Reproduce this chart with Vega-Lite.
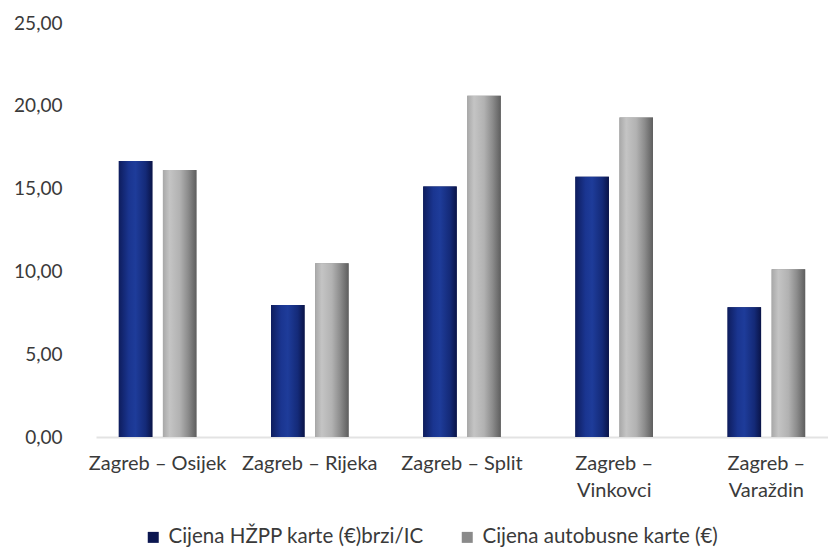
{
  "$schema": "https://vega.github.io/schema/vega-lite/v6.json",
  "autosize": "none",
  "width": 732,
  "height": 414,
  "padding": {"left": 96, "top": 23, "right": 0, "bottom": 115},
  "background": "white",
  "config": {
    "view": {"stroke": null},
    "font": "Lato",
    "axis": {"labelFont": "Lato", "labelColor": "#3a3a3a", "grid": false, "ticks": false, "title": null},
    "legend": {"labelFont": "Lato", "labelColor": "#3a3a3a"}
  },
  "data": {
    "values": [
      {"ruta": "Zagreb – Osijek", "serija": "Cijena HŽPP karte (€)brzi/IC", "cijena": 16.67},
      {"ruta": "Zagreb – Osijek", "serija": "Cijena autobusne karte (€)", "cijena": 16.12},
      {"ruta": "Zagreb – Rijeka", "serija": "Cijena HŽPP karte (€)brzi/IC", "cijena": 7.97},
      {"ruta": "Zagreb – Rijeka", "serija": "Cijena autobusne karte (€)", "cijena": 10.49},
      {"ruta": "Zagreb – Split", "serija": "Cijena HŽPP karte (€)brzi/IC", "cijena": 15.12},
      {"ruta": "Zagreb – Split", "serija": "Cijena autobusne karte (€)", "cijena": 20.61},
      {"ruta": "Zagreb – Vinkovci", "serija": "Cijena HŽPP karte (€)brzi/IC", "cijena": 15.72},
      {"ruta": "Zagreb – Vinkovci", "serija": "Cijena autobusne karte (€)", "cijena": 19.30},
      {"ruta": "Zagreb – Varaždin", "serija": "Cijena HŽPP karte (€)brzi/IC", "cijena": 7.83},
      {"ruta": "Zagreb – Varaždin", "serija": "Cijena autobusne karte (€)", "cijena": 10.13}
    ]
  },
  "encoding": {
    "x": {
      "field": "ruta", "type": "nominal", "sort": null,
      "scale": {"paddingInner": 0.49, "paddingOuter": 0.15},
      "axis": {
        "labelAngle": 0, "labelFontSize": 20, "labelPadding": 16, "labelLineHeight": 27,
        "domain": true, "domainColor": "#e3e3e3", "domainWidth": 2,
        "labelExpr": "(indexof(datum.label,'Vinkovci')>=0 || indexof(datum.label,'Varaždin')>=0) ? split(replace(datum.label,' – ',' –|'),'|') : datum.label"
      }
    },
    "xOffset": {"field": "serija", "type": "nominal", "sort": null, "scale": {"paddingInner": 0.24}},
    "y": {
      "field": "cijena", "type": "quantitative",
      "scale": {"domain": [0, 25]},
      "axis": {"values": [0, 5, 10, 15, 20, 25], "format": ".2f", "labelExpr": "replace(datum.label,'.',',')", "labelFontSize": 19, "labelPadding": 34, "domain": false}
    }
  },
  "layer": [
    {
      "mark": {"type": "bar"},
      "encoding": {
        "color": {
          "field": "serija", "type": "nominal", "sort": null,
          "scale": {"range": ["#0b1650", "#8a8a8a"]},
          "legend": {
            "orient": "none", "legendX": 47, "legendY": 504, "direction": "horizontal",
            "title": null, "symbolType": "square", "symbolSize": 121, "labelFontSize": 20.5,
            "labelLimit": 400, "columnPadding": 33, "labelOffset": 5, "padding": 0
          }
        }
      }
    },
    {
      "transform": [{"filter": "datum.serija == 'Cijena HŽPP karte (€)brzi/IC'"}],
      "mark": {
        "type": "bar",
        "color": {"gradient": "linear", "x1": 0, "y1": 0, "x2": 1, "y2": 0,
          "stops": [{"offset": 0, "color": "#0e1d5e"}, {"offset": 0.3, "color": "#1a3590"}, {"offset": 0.5, "color": "#1e3c9a"}, {"offset": 0.8, "color": "#142a78"}, {"offset": 1, "color": "#0a1448"}]}
      }
    },
    {
      "transform": [{"filter": "datum.serija == 'Cijena autobusne karte (€)'"}],
      "mark": {
        "type": "bar",
        "color": {"gradient": "linear", "x1": 0, "y1": 0, "x2": 1, "y2": 0,
          "stops": [{"offset": 0, "color": "#a8a8a8"}, {"offset": 0.2, "color": "#c4c4c4"}, {"offset": 0.5, "color": "#b2b2b2"}, {"offset": 0.75, "color": "#8c8c8c"}, {"offset": 1, "color": "#5e5e5e"}]}
      }
    }
  ]
}
